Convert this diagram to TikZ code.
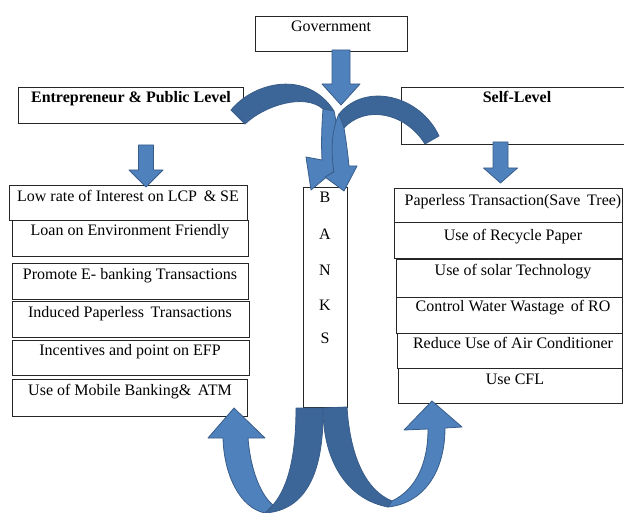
\documentclass[tikz,border=0pt]{standalone}
\usepackage{fontspec}
\setmainfont{Liberation Serif}
\usetikzlibrary{fit}
\definecolor{blueL}{HTML}{4F81BD}
\definecolor{blueD}{HTML}{3C6598}
\definecolor{blueE}{HTML}{385D8A}
\begin{document}
\begin{tikzpicture}[x=0.75pt,y=-0.75pt,
  box/.style={draw=black!85, line width=0.75pt, rectangle, inner sep=0pt},
  lbl/.style={font=\fontsize{12}{14}\selectfont, inner sep=0pt, anchor=base},
  blbl/.style={lbl, font=\fontsize{12}{14}\selectfont\bfseries},
  blkL/.style={fill=blueL, draw=blueE, line width=0.6pt, line join=round},
  blkD/.style={fill=blueD, draw=blueE, line width=0.6pt, line join=round}]
\useasboundingbox (0,0) rectangle (624,513);

% straight block arrow pointing down: top point, shaft length, head length,
% half shaft width, half head width
\newcommand\dnarrow[5]{%
  \filldraw[blkL] (#1) ++(-#4,0) -- ++(2*#4,0) -- ++(0,#2) -- ++(#5-#4,0)
    -- ++(-#5,#3) -- ++(-#5,-#3) -- ++(#5-#4,0) -- cycle;}

% ---------- header boxes ----------
\node[box, fit={(255,17) (407,52)}] (gov) {};
\node[lbl] (govt) at (331,32) {Government};
\node[box, fit={(18,88) (243,124)}] (ent) {};
\node[blbl] (entt) at (131,103) {Entrepreneur \& Public Level};
\node[box, fit={(401,88) (625,145)}] (self) {};
\node[blbl] (selft) at (517,103) {Self-Level};

% ---------- left column ----------
\node[box, fit={(9,186) (247,221)}] (l1) {};
\node[lbl] (l1t) at (128,201.5) {Low rate of Interest on LCP \,\& SE};
\node[box, fit={(12,221) (248,256)}] (l2) {};
\node[lbl] (l2t) at (130,236) {Loan on Environment Friendly};
\node[box, fit={(12,263) (248,299)}] (l3) {};
\node[lbl] (l3t) at (130,279) {Promote E- banking Transactions};
\node[box, fit={(12,301) (249,337)}] (l4) {};
\node[lbl] (l4t) at (130,317) {Induced Paperless \,Transactions};
\node[box, fit={(12,340) (249,375)}] (l5) {};
\node[lbl] (l5t) at (130,355.5) {Incentives and point on EFP};
\node[box, fit={(12,379) (247,416)}] (l6) {};
\node[lbl] (l6t) at (130,395) {Use of Mobile Banking\& \,ATM};

% ---------- banks ----------
\node[box, fit={(303,188) (347,407)}] (banks) {};
\foreach \ch/\yy [count=\i] in {B/203,A/239,N/275,K/310,S/343}
  \node[lbl] (bk\i) at (325,\yy) {\ch};

% ---------- right column ----------
\node[box, fit={(394,189) (622,223)}] (r1) {};
\node[lbl] (r1t) at (513,206) {Paperless Transaction(Save \,Tree)};
\node[box, fit={(394,223) (622,258)}] (r2) {};
\node[lbl] (r2t) at (513,240) {Use of Recycle Paper};
\node[box, fit={(396,259) (622,297)}] (r3) {};
\node[lbl] (r3t) at (513,275) {Use of solar Technology};
\node[box, fit={(396,297) (622,333)}] (r4) {};
\node[lbl] (r4t) at (513,311.5) {Control Water Wastage \,of RO};
\node[box, fit={(397,333) (622,368)}] (r5) {};
\node[lbl] (r5t) at (513,348) {Reduce Use of Air Conditioner};
\node[box, fit={(398,368) (622,403)}] (r6) {};
\node[lbl] (r6t) at (515,384) {Use CFL};

% ---------- straight arrows ----------
\coordinate (entA) at (146,145);
\coordinate (selfA) at (500.5,142);
\dnarrow{entA}{25}{17}{7.5}{17}
\dnarrow{selfA}{26}{15}{7.5}{17}

% ---------- curved arrows into the banks ----------
% from the entrepreneur level
\filldraw[blkD] (231,110) .. controls (255,81) and (308,70) .. (334,111)
  -- (323,109) .. controls (305,93) and (265,105) .. (245,124) -- cycle;
\filldraw[blkL] (323,109) -- (334,111) .. controls (338,128) and (338,148) .. (338,164)
  -- (341,165) -- (311,190) -- (306,157) -- (322,160)
  .. controls (321,140) and (322,122) .. (323,109) -- cycle;
% from the government
\coordinate (govA) at (341,50);
\dnarrow{govA}{34}{21}{9}{19}
% from the self level
\filldraw[blkD] (439,136) .. controls (420,95) and (365,82) .. (339,114)
  -- (344,128) .. controls (365,105) and (405,112) .. (425,144) -- cycle;
\filldraw[blkL] (339,114) -- (344,128) .. controls (346,140) and (348,155) .. (349,166)
  -- (357,166) -- (344,191) -- (325,177) -- (334,172)
  .. controls (331,155) and (331,130) .. (339,114) -- cycle;

% ---------- U-turn arrows out of the banks ----------
\filldraw[blkD] (296,408) -- (323,408) .. controls (324,465) and (310,510) .. (265,513)
  -- (273,505) .. controls (290,485) and (296,450) .. (296,408) -- cycle;
\filldraw[blkL] (265,513) .. controls (240,508) and (224,475) .. (223,438)
  -- (208,438) -- (234,408) -- (265,438) -- (248,438)
  .. controls (251,475) and (263,497) .. (273,505) -- cycle;
\filldraw[blkD] (323,408) -- (347,407) .. controls (350,455) and (365,490) .. (392,501)
  -- (388,507) .. controls (350,500) and (323,465) .. (323,408) -- cycle;
\filldraw[blkL] (388,507) .. controls (425,503) and (445,470) .. (445,428)
  -- (462,427) -- (432,401) -- (404,430) -- (428,429)
  .. controls (428,465) and (415,490) .. (392,501) -- cycle;
\end{tikzpicture}
\end{document}
